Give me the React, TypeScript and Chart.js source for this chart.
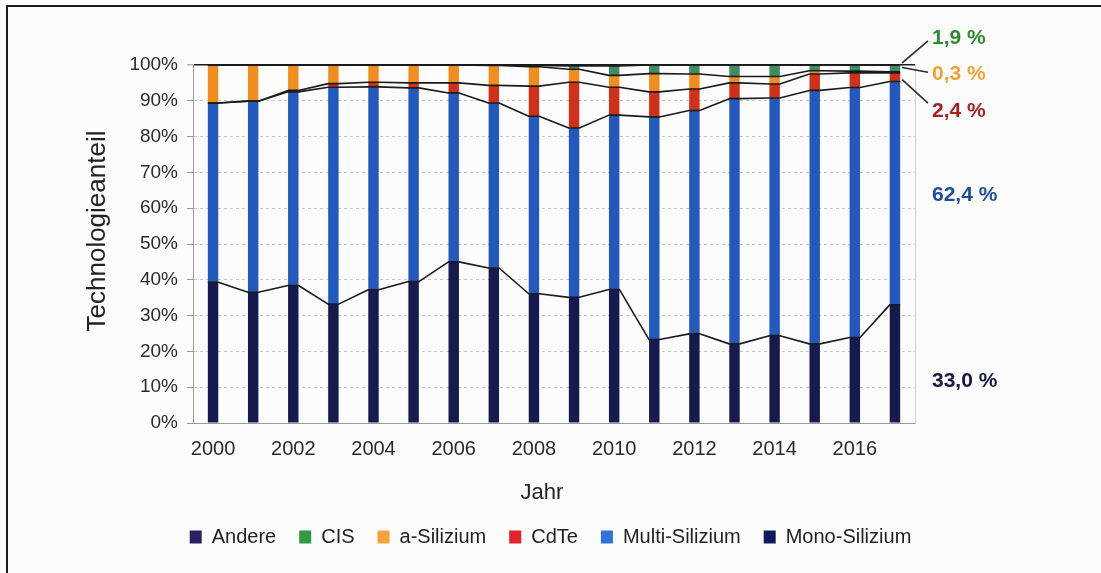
import React, { useEffect, useRef } from "react";
import { Chart, registerables } from "chart.js";

Chart.register(...registerables);

// Anteile der PV-Technologien an der Jahresproduktion (in %)
const years = [
  "2000", "2001", "2002", "2003", "2004", "2005", "2006", "2007", "2008",
  "2009", "2010", "2011", "2012", "2013", "2014", "2015", "2016", "2017",
];
const monoSi = [39.3, 36.5, 38.4, 33.2, 37.2, 39.5, 45.0, 43.3, 36.1, 35.1, 37.3, 23.3, 24.9, 22.1, 24.4, 22.1, 23.9, 33.0];
const multiSi = [50.1, 53.4, 54.1, 60.6, 56.7, 54.1, 47.2, 46.1, 49.6, 47.3, 48.7, 62.2, 62.4, 68.5, 66.4, 70.8, 69.8, 62.4];
const cdte = [0, 0, 0.4, 1.0, 1.3, 1.4, 2.8, 4.9, 8.4, 12.8, 7.8, 7.0, 6.0, 4.4, 3.9, 4.6, 4.1, 2.4];
const aSi = [10.6, 10.1, 7.1, 5.2, 4.8, 5.0, 5.0, 5.6, 5.4, 3.6, 3.3, 5.1, 4.2, 1.8, 2.1, 0.9, 0.5, 0.3];
const cis = [0, 0, 0, 0, 0, 0, 0, 0.1, 0.4, 0.9, 2.6, 2.4, 2.5, 3.2, 3.2, 1.6, 1.7, 1.9];
const andere = [0, 0, 0, 0, 0, 0, 0, 0, 0.1, 0.3, 0.3, 0, 0, 0, 0, 0, 0, 0];

const xTitle = "Jahr";
const yTitle = "Technologieanteil";

const FONT = "'Liberation Sans', Arial, Helvetica, sans-serif";

// bar fill colours (stack order: bottom to top)
const barColors = ["#161a4f", "#2358bc", "#cf3118", "#f18d1f", "#3d8c62", "#2d2663"];
// legend swatch colours
const legendColors = ["#121a5e", "#2f72d9", "#e3222c", "#f6a23a", "#2f9a42", "#2b2166"];

const fmtShare = (v: number) => v.toFixed(1).replace(".", ",") + " %";

// Excel-like series lines joining the top edges of every stack segment
const seriesLines = {
  id: "seriesLines",
  afterDatasetsDraw(chart: any) {
    const ctx = chart.ctx;
    ctx.save();
    ctx.strokeStyle = "#1b1b1b";
    ctx.lineWidth = 1.6;
    ctx.lineJoin = "round";
    chart.data.datasets.forEach((_: any, d: number) => {
      const bars = chart.getDatasetMeta(d).data;
      ctx.beginPath();
      bars.forEach((b: any, i: number) => {
        const l = b.x - b.width / 2;
        const r = b.x + b.width / 2;
        if (i === 0) ctx.moveTo(l, b.y);
        else ctx.lineTo(l, b.y);
        ctx.lineTo(r, b.y);
      });
      ctx.stroke();
    });
    ctx.restore();
  },
};

// axis titles
const axisTitles = {
  id: "axisTitles",
  afterDraw(chart: any) {
    const { ctx, chartArea } = chart;
    ctx.save();
    ctx.fillStyle = "#222";
    ctx.textAlign = "center";
    ctx.textBaseline = "middle";
    ctx.font = `22px ${FONT}`;
    ctx.fillText(xTitle, chartArea.left + 349, chartArea.bottom + 70);
    ctx.translate(98, chartArea.top + 166);
    ctx.rotate(-Math.PI / 2);
    ctx.font = `26px ${FONT}`;
    ctx.fillText(yTitle, 0, 0);
    ctx.restore();
  },
};

// value notes for the last year, right of the plot
const shareNotes = {
  id: "shareNotes",
  afterDatasetsDraw(chart: any) {
    const { ctx, chartArea } = chart;
    const y = chart.scales.y;
    const last = years.length - 1;
    const bar = chart.getDatasetMeta(0).data[last];
    const barRight = bar.x + bar.width / 2;
    const x = chartArea.right + 17;
    const notes = [
      { text: fmtShare(cis[last]), color: "#2f8a2c", at: 107.6, from: 3, to: 100.6 },
      { text: fmtShare(aSi[last]), color: "#f0a233", at: 97.4, from: -2, to: 99.3 },
      { text: fmtShare(cdte[last]), color: "#a9201c", at: 87.1, from: -8, to: 95.9 },
      { text: fmtShare(multiSi[last]), color: "#1f4c9e", at: 63.6 },
      { text: fmtShare(monoSi[last]), color: "#17183f", at: 11.6 },
    ];
    ctx.save();
    ctx.font = `bold 21px ${FONT}`;
    ctx.textBaseline = "middle";
    ctx.textAlign = "left";
    notes.forEach((n: any) => {
      const ly = y.getPixelForValue(n.at);
      ctx.fillStyle = n.color;
      ctx.fillText(n.text, x, ly);
      if (n.to !== undefined) {
        ctx.beginPath();
        ctx.strokeStyle = "#2a2a2a";
        ctx.lineWidth = 1.6;
        ctx.moveTo(x - 4, ly + n.from);
        ctx.lineTo(barRight + 2, y.getPixelForValue(n.to));
        ctx.stroke();
      }
    });
    ctx.restore();
  },
};

export default function App() {
  const canvasRef = useRef<HTMLCanvasElement>(null);

  useEffect(() => {
    const canvas = canvasRef.current;
    if (!canvas) return;

    const series = [
      { label: "Mono-Silizium", data: monoSi },
      { label: "Multi-Silizium", data: multiSi },
      { label: "CdTe", data: cdte },
      { label: "a-Silizium", data: aSi },
      { label: "CIS", data: cis },
      { label: "Andere", data: andere },
    ];

    const chart = new Chart(canvas, {
      type: "bar",
      data: {
        labels: years,
        datasets: series.map((s, i) => ({
          label: s.label,
          data: s.data,
          backgroundColor: barColors[i],
          borderWidth: 0,
          barPercentage: 0.26,
          categoryPercentage: 1,
        })),
      },
      options: {
        responsive: false,
        animation: false,
        devicePixelRatio: 1,
        layout: { padding: { top: 65, bottom: 16, left: 0, right: 0 } },
        plugins: {
          tooltip: { enabled: false },
          legend: {
            position: "bottom",
            reverse: true,
            labels: {
              boxWidth: 12,
              boxHeight: 13,
              padding: 23,
              color: "#222",
              font: { family: FONT, size: 20 },
              generateLabels(c: any) {
                const items = (Chart as any).defaults.plugins.legend.labels.generateLabels(c);
                return items.map((it: any) => ({
                  ...it,
                  fillStyle: legendColors[it.datasetIndex],
                  strokeStyle: legendColors[it.datasetIndex],
                  lineWidth: 0,
                }));
              },
            },
          },
        },
        scales: {
          x: {
            stacked: true,
            grid: { display: false, drawTicks: false },
            border: { display: true, color: "#9a9a9a", width: 1 },
            ticks: {
              autoSkip: false,
              maxRotation: 0,
              padding: 14,
              color: "#2a2a2a",
              font: { family: FONT, size: 20 },
              callback: (_v: any, i: number) => (i % 2 === 0 ? years[i] : ""),
            },
            afterFit(s: any) {
              s.height = 81;
            },
          },
          y: {
            stacked: true,
            min: 0,
            max: 100,
            ticks: {
              stepSize: 10,
              padding: 9,
              color: "#2a2a2a",
              font: { family: FONT, size: 19 },
              callback: (v: any) => v + "%",
            },
            grid: {
              color: (c: any) => (c.tick && c.tick.value === 100 ? "#1b1b1b" : "#c8c8c8"),
              lineWidth: (c: any) => (c.tick && c.tick.value === 100 ? 1.6 : 1),
              drawTicks: true,
              tickLength: 6,
              tickColor: "#9a9a9a",
              tickWidth: 1,
            },
            border: {
              display: true,
              color: "#9a9a9a",
              width: 1,
              dash: (c: any) => (c.tick && c.tick.value === 100 ? [] : [3, 3]),
            },
            afterFit(s: any) {
              s.width = 193;
            },
          },
          y2: {
            position: "right",
            display: true,
            min: 0,
            max: 100,
            grid: { display: false, drawTicks: false },
            ticks: { display: false },
            border: { display: true, color: "#d2d2d2", width: 1 },
            afterFit(s: any) {
              s.width = 186;
            },
          },
        },
      } as any,
      plugins: [seriesLines, shareNotes, axisTitles],
    });

    return () => chart.destroy();
  }, []);

  return (
    <div
      style={{
        position: "fixed",
        left: 0,
        top: 0,
        width: 1101,
        height: 573,
        background: "#fcfcfd",
        overflow: "hidden",
      }}
    >
      <canvas
        ref={canvasRef}
        width={1101}
        height={573}
        style={{ position: "absolute", left: 0, top: 0, width: 1101, height: 573 }}
      />
      <div style={{ position: "absolute", left: 6, top: 5, right: 0, height: 2, background: "#1c1c1c" }} />
      <div style={{ position: "absolute", left: 6, top: 5, bottom: 0, width: 2, background: "#1c1c1c" }} />
    </div>
  );
}
